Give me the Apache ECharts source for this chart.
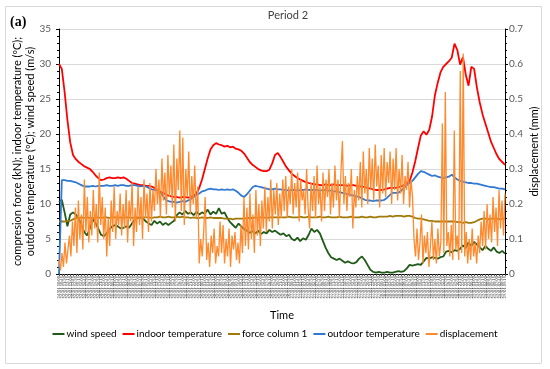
<!DOCTYPE html>
<html><head><meta charset="utf-8">
<script src="https://cdn.jsdelivr.net/npm/echarts@6/dist/echarts.min.js"></script>
<style>html,body{margin:0;padding:0;background:#fff}#c{width:550px;height:369px}</style>
</head><body><div id="c"></div>
<script>
// ---- data ----
var windSpeed = [10.3,10.6,8.8,6.8,8.5,8.8,8.5,8.0,7.0,6.0,5.5,6.5,7.8,7.3,6.5,5.6,5.4,5.8,6.4,6.8,
7.0,6.8,6.5,6.6,6.8,6.6,7.2,7.8,8.0,8.1,7.9,7.5,7.2,7.0,7.6,7.2,7.5,7.0,7.3,7.0,
7.3,7.6,8.4,8.8,8.5,9.0,8.6,8.8,8.4,8.9,8.5,8.8,8.6,9.2,8.5,8.9,8.6,9.4,8.6,8.8,
8.0,7.4,7.0,6.6,7.2,6.8,6.4,6.2,5.9,6.1,5.8,6.2,5.7,6.0,5.8,6.3,6.0,6.2,5.9,5.6,
5.8,5.4,5.6,5.0,4.8,5.2,4.7,5.1,4.9,5.6,6.5,6.0,6.3,5.8,4.8,3.8,3.0,2.4,2.2,2.0,
2.2,1.9,1.6,1.8,1.6,1.5,1.7,2.2,2.5,2.0,1.3,0.6,0.3,0.2,0.3,0.2,0.2,0.3,0.2,0.2,
0.3,0.4,0.3,0.4,0.8,1.3,1.2,1.3,1.4,1.3,1.8,2.3,2.2,2.4,2.3,2.2,2.4,2.5,3.2,3.3,
3.1,3.4,3.3,3.6,4.1,3.7,4.5,4.0,4.6,4.2,3.8,3.4,4.0,3.6,3.3,3.8,3.2,3.0,3.3,2.9];
var indoorTemp = [30,29.3,26,22,18.8,17,16.4,16,15.7,15.4,15.2,15,14.6,14.1,13.7,13.4,13.5,13.7,13.8,13.7,
13.7,13.8,13.7,13.8,13.6,13.3,13.0,12.9,12.8,12.7,12.7,12.6,12.6,12.5,12.3,12.0,11.8,11.6,11.4,11.2,
11.1,11.0,11.0,10.9,11.0,11.0,10.9,11.0,11.2,11.5,12.3,13.5,15.0,16.5,17.8,18.4,18.7,18.5,18.4,18.2,
18.3,18.1,18.2,17.9,17.8,17.6,17.2,16.6,16.0,15.6,15.3,15.0,14.8,14.7,14.7,14.9,15.8,17.0,17.3,16.7,
16.0,15.3,14.8,14.3,14.0,13.7,13.5,13.3,13.1,13.0,12.9,12.8,12.8,12.7,12.7,12.8,12.7,12.7,12.8,12.7,
12.7,12.7,12.7,12.6,12.7,12.7,12.6,12.5,12.5,12.4,12.3,12.2,12.1,12.0,12.0,12.0,12.1,12.2,12.3,12.3,
12.3,12.4,12.5,12.7,12.9,13.3,14.5,16.1,18.0,19.8,20.4,19.9,20.6,22.5,25.5,27.3,28.8,29.6,30.0,30.4,
30.9,32.9,32.0,29.9,31.0,28.5,26.9,29.6,29.3,26.6,24.5,22.8,21.5,20.2,18.9,18.0,17.1,16.4,16.0,15.6];
var forceColumn1 = [7.5,7.5,7.5,7.6,7.6,7.8,8.0,8.0,8.1,8.0,8.1,8.0,8.0,8.1,8.1,8.0,8.1,8.1,8.0,8.1,
8.1,8.0,8.1,8.0,8.1,8.1,8.0,8.1,8.1,8.0,8.1,8.1,8.1,8.0,8.1,8.1,8.2,8.1,8.1,8.2,
8.1,8.1,8.2,8.1,8.2,8.1,8.1,8.0,8.1,8.0,8.0,8.1,8.0,8.0,8.1,8.0,8.0,8.0,8.0,7.9,
7.9,7.9,7.8,7.9,7.9,7.9,7.9,8.0,8.0,8.0,8.1,8.0,8.1,8.1,8.0,8.1,8.1,8.1,8.1,8.1,
8.1,8.1,8.2,8.1,8.1,8.1,8.2,8.1,8.1,8.2,8.1,8.1,8.1,8.2,8.1,8.1,8.2,8.1,8.1,8.1,
8.2,8.1,8.1,8.1,8.2,8.1,8.1,8.1,8.2,8.1,8.1,8.2,8.1,8.1,8.2,8.2,8.2,8.2,8.3,8.2,
8.3,8.3,8.3,8.2,8.3,8.3,8.2,8.0,7.9,7.9,7.8,7.7,7.6,7.6,7.5,7.5,7.5,7.5,7.5,7.5,
7.5,7.5,7.4,7.4,7.3,7.4,7.3,7.3,7.4,7.6,7.8,7.9,7.9,7.8,7.9,7.9,7.9,7.8,7.9,7.9];
var outdoorTemp = [0,13.4,13.4,13.3,13.3,13.2,13.1,12.9,12.7,12.5,12.5,12.5,12.6,12.5,12.6,12.6,12.6,12.7,12.6,12.6,
12.7,12.6,12.7,12.7,12.6,12.6,12.7,12.7,12.6,12.5,12.6,12.5,12.3,12.1,12.0,11.9,11.7,11.2,10.6,10.4,
10.3,10.3,10.2,10.3,10.4,10.3,10.5,10.7,11.0,11.3,11.5,11.8,11.9,12.1,12.2,12.1,12.1,12.0,12.1,12.0,
12.1,12.0,12.1,11.9,11.6,11.2,11.0,11.4,11.9,12.4,12.6,12.5,12.4,12.3,12.2,12.1,12.1,12.2,12.1,12.1,
12.0,12.0,11.9,12.0,12.0,11.9,12.0,12.0,12.1,12.0,12.0,12.0,12.0,11.9,12.0,12.0,11.9,11.9,11.8,11.8,
11.7,11.6,11.5,11.4,11.3,11.2,11.1,11.0,10.8,10.6,10.5,10.5,10.4,10.5,10.5,10.5,10.6,10.9,11.3,11.6,
11.6,11.6,11.9,12.3,12.7,13.0,13.3,13.8,14.3,14.7,14.6,14.4,14.2,14.0,14.1,13.9,13.8,13.7,13.8,13.9,
14.2,13.8,13.5,13.3,13.2,13.1,13.0,13.0,12.9,12.9,12.8,12.7,12.6,12.5,12.4,12.4,12.3,12.2,12.2,12.1];
// displacement is logged more often than the other sensors (own hidden time axis)
var displacement = [0.04,0.01,0.06,0.02,0.09,0.03,0.07,0.11,
0.05,0.15,0.08,0.19,0.06,0.21,0.10,0.17,0.07,0.27,0.12,0.22,0.09,
0.18,0.11,0.24,0.13,0.20,0.09,0.29,0.14,0.22,0.10,0.19,0.05,0.16,0.08,0.21,0.12,0.25,0.10,0.18,0.14,0.23,0.11,0.20,
0.13,0.24,0.09,0.21,0.15,0.26,0.08,0.19,0.12,0.25,0.14,0.22,0.10,0.27,0.16,0.23,0.12,0.26,0.15,0.24,
0.18,0.30,0.20,0.27,0.16,0.33,0.21,0.29,0.17,0.34,0.22,0.31,
0.19,0.37,0.15,0.33,0.24,0.41,0.18,0.39,0.14,0.30,0.22,0.35,0.17,0.28,0.20,0.31,0.16,
0.25,0.03,0.10,0.05,0.12,0.22,0.04,0.09,0.02,0.11,0.06,0.13,0.03,0.08,0.05,0.15,
0.06,0.14,0.03,0.10,0.05,0.13,0.02,0.11,0.07,0.12,0.04,0.09,0.03,0.14,0.06,0.22,0.08,
0.19,0.07,0.23,0.10,0.17,0.06,0.24,0.11,0.20,0.08,0.21,0.13,
0.25,0.12,0.22,0.15,0.27,0.13,0.24,0.17,0.26,0.14,0.23,0.16,0.27,
0.18,0.28,0.16,0.25,0.20,0.30,0.17,0.26,0.19,0.29,
0.15,0.27,0.21,0.24,0.17,0.30,0.19,0.13,0.26,0.18,
0.28,0.16,0.31,0.20,0.25,0.15,0.29,0.18,0.27,0.22,
0.30,0.17,0.26,0.19,0.31,0.21,0.27,0.16,0.29,0.38,
0.20,0.28,0.18,0.26,0.22,0.30,0.13,0.24,0.19,0.28,
0.21,0.32,0.19,0.35,0.23,0.30,0.20,0.36,0.24,0.33,
0.21,0.37,0.25,0.31,0.19,0.34,0.23,0.36,0.22,0.32,
0.26,0.35,0.20,0.33,0.24,
0.36,0.21,0.30,0.23,0.34,0.20,0.28,0.24,0.32,0.19,0.27,0.22,
0.10,0.05,0.13,0.04,0.09,0.17,0.03,0.11,0.06,0.12,0.02,0.08,0.15,0.04,0.10,0.03,0.13,0.05,0.09,
0.43,0.06,0.52,0.08,0.12,0.05,0.14,0.04,0.41,0.07,0.11,0.04,0.58,0.06,0.63,0.05,0.12,0.03,0.10,0.04,0.13,0.05,0.09,0.03,0.11,
0.06,0.15,0.08,0.18,0.07,0.20,0.10,0.17,0.09,0.22,0.12,0.19,0.08,0.24,0.13,0.21,0.11,0.23];
var leftTicks = {min: 0, max: 35, interval: 5};
var rightTicks = {min: 0, max: 0.7, interval: 0.1};
function makeTimes(n, stepMin) {
  var out = [], start = new Date(2018, 0, 24, 10, 0, 0);
  var p = function(v){return (v<10?'0':'')+v;};
  for (var i = 0; i < n; i++) {
    var d = new Date(start.getTime() + i * stepMin * 60000);
    out.push(p(d.getDate())+'/'+p(d.getMonth()+1)+' '+p(d.getHours())+':'+p(d.getMinutes()));
  }
  return out;
}
var timeLabels = makeTimes(windSpeed.length, 45);
var dispTimes = makeTimes(displacement.length, 24);

var FONT = 'Lato, "Open Sans", sans-serif';
var chart = echarts.init(document.getElementById('c'));
function ln(name, data, color, w, yi, xi) {
  return {name: name, type: 'line', data: data, yAxisIndex: yi || 0, xAxisIndex: xi || 0,
    showSymbol: false, symbol: 'none',
    lineStyle: {color: color, width: w}, itemStyle: {color: color}, emphasis: {disabled: true}, z: 2};
}
chart.setOption({
  animation: false,
  textStyle: {fontFamily: FONT},
  title: {text: 'Period 2', left: 283, top: 5, textAlign: 'center',
    textStyle: {fontSize: 11, fontWeight: 'normal', color: '#404040', fontFamily: FONT}},
  graphic: [
    {type: 'rect', shape: {x: 5.5, y: 6.5, width: 536, height: 357}, style: {fill: 'none', stroke: '#d9d9d9', lineWidth: 1}, silent: true, z: -1},
    {type: 'text', left: 10, top: 15, style: {text: '(a)', font: 'bold 14px "Liberation Serif", serif', fill: '#000'}}
  ],
  legend: {bottom: 25, left: 'center', itemWidth: 12, itemHeight: 2, itemGap: 6,
    icon: 'rect', textStyle: {fontSize: 10, color: '#000', fontFamily: FONT, padding: [0,0,0,-3]},
    data: ['wind speed','indoor temperature','force column 1','outdoor temperature','displacement']},
  grid: {left: 59, right: 45, top: 29, bottom: 95},
  xAxis: [{type: 'category', data: timeLabels, boundaryGap: false,
    name: 'Time', nameLocation: 'middle', nameGap: 36, nameMoveOverlap: false,
    nameTextStyle: {fontSize: 11, color: '#000', fontFamily: FONT},
    axisLine: {lineStyle: {color: '#000', width: 1}},
    axisTick: {interval: 0, length: 2, lineStyle: {color: '#555'}},
    axisLabel: {interval: 0, rotate: 90, fontSize: 4, color: '#444', margin: 2, fontFamily: FONT}},
    {type: 'category', data: dispTimes, boundaryGap: false, show: false}],
  yAxis: [
    {type: 'value', min: leftTicks.min, max: leftTicks.max, interval: leftTicks.interval,
      name: 'compresion force (kN); indoor temperature (ºC);\noutdoor temperature (ºC); wind speed (m/s)',
      nameLocation: 'middle', nameGap: 22, nameRotate: 90, nameMoveOverlap: false,
      nameTextStyle: {fontSize: 11, color: '#000', lineHeight: 13, fontFamily: FONT},
      axisLine: {show: true, lineStyle: {color: '#000'}},
      axisTick: {show: true, length: 3, lineStyle: {color: '#000'}},
      minorTick: {show: true, splitNumber: 5, length: 2, lineStyle: {color: '#000'}},
      axisLabel: {fontSize: 10, color: '#595959', margin: 8, fontFamily: FONT},
      splitLine: {show: true, lineStyle: {color: '#d9d9d9', width: 1}}},
    {type: 'value', min: rightTicks.min, max: rightTicks.max, interval: rightTicks.interval,
      name: 'displacement (mm)', nameLocation: 'middle', nameGap: 24, nameRotate: 90, nameMoveOverlap: false,
      nameTextStyle: {fontSize: 11, color: '#000', fontFamily: FONT, verticalAlign: 'top'},
      axisLine: {show: true, lineStyle: {color: '#000'}},
      axisTick: {show: true, length: 3, lineStyle: {color: '#000'}},
      minorTick: {show: true, splitNumber: 5, length: 2, lineStyle: {color: '#000'}},
      axisLabel: {fontSize: 10, color: '#595959', margin: 4, fontFamily: FONT},
      splitLine: {show: false}}
  ],
  series: [
    ln('wind speed', windSpeed, '#1f5a17', 1.8),
    ln('indoor temperature', indoorTemp, '#ff0000', 1.8),
    ln('force column 1', forceColumn1, '#a07a08', 1.8),
    ln('outdoor temperature', outdoorTemp, '#2f78d4', 1.8),
    ln('displacement', displacement, '#ff8a2e', 1.3, 1, 1)
  ]
});
</script></body></html>
